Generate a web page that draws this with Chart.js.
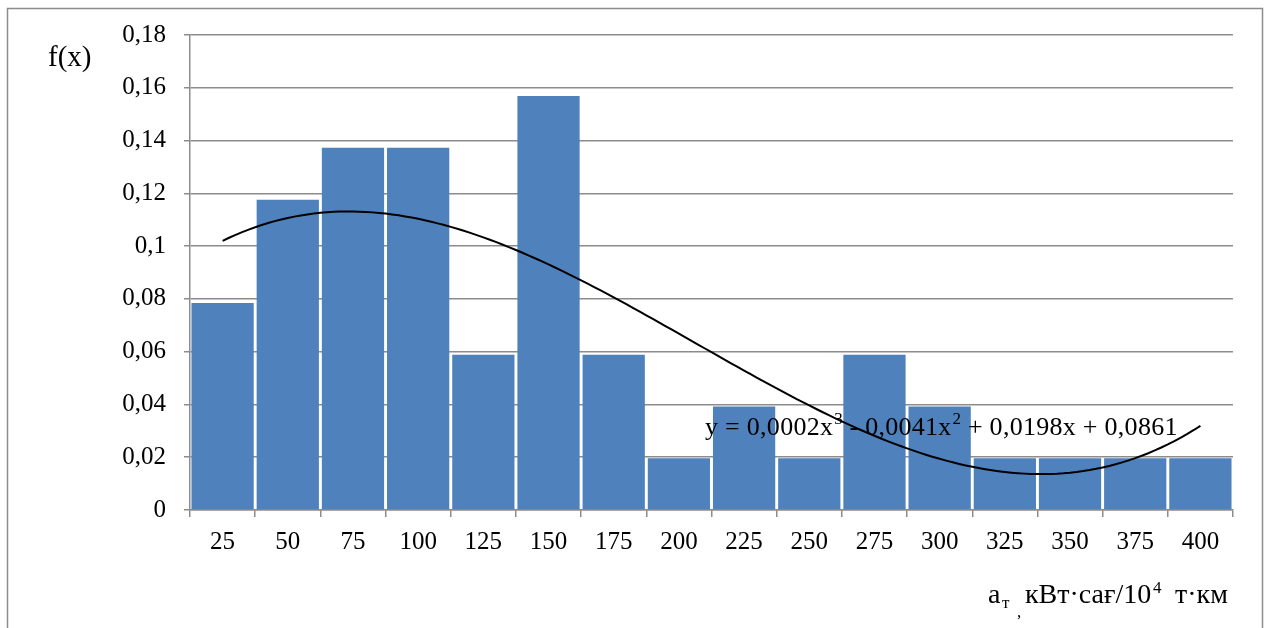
<!DOCTYPE html>
<html>
<head>
<meta charset="utf-8">
<script src="https://cdn.jsdelivr.net/npm/chart.js"></script>
<style>
  body { margin: 0; background: #fff; }
</style>
</head>
<body>
<canvas id="chart" width="1268" height="628"></canvas>
<script>
// interval upper bounds along the x-axis
var classes = ['25', '50', '75', '100', '125', '150', '175', '200', '225', '250', '275', '300', '325', '350', '375', '400'];
// relative frequency per interval
var freq = [0.0784, 0.1176, 0.1373, 0.1373, 0.0588, 0.1569, 0.0588, 0.0196, 0.0392, 0.0196, 0.0588, 0.0392, 0.0196, 0.0196, 0.0196, 0.0196];
// trendline equation, drawn as [text, superscript] pairs
var trendLabel = [['y = 0,0002x', '3'], [' - 0,0041x', '2'], [' + 0,0198x + 0,0861', '']];

var serif = '"Liberation Serif", "Times New Roman", serif';
var gray = '#8c8c8c';

// cubic least squares over interval numbers 1..n (same as the spreadsheet trendline)
function cubicFit(ys) {
  var n = 4, A = [], b = [];
  for (var i = 0; i < n; i++) { A.push([0, 0, 0, 0]); b.push(0); }
  ys.forEach(function (y, k) {
    var x = k + 1;
    for (var i = 0; i < n; i++) {
      for (var j = 0; j < n; j++) A[i][j] += Math.pow(x, i + j);
      b[i] += y * Math.pow(x, i);
    }
  });
  for (var c = 0; c < n; c++) {
    var p = c;
    for (var r = c + 1; r < n; r++) if (Math.abs(A[r][c]) > Math.abs(A[p][c])) p = r;
    var t = A[c]; A[c] = A[p]; A[p] = t;
    t = b[c]; b[c] = b[p]; b[p] = t;
    for (var r2 = c + 1; r2 < n; r2++) {
      var f = A[r2][c] / A[c][c];
      for (var j2 = c; j2 < n; j2++) A[r2][j2] -= f * A[c][j2];
      b[r2] -= f * b[c];
    }
  }
  var coef = [0, 0, 0, 0];
  for (var r3 = n - 1; r3 >= 0; r3--) {
    var s = b[r3];
    for (var j3 = r3 + 1; j3 < n; j3++) s -= A[r3][j3] * coef[j3];
    coef[r3] = s / A[r3][r3];
  }
  return coef;
}

var coef = cubicFit(freq);
var trend = [];
for (var x = 1; x <= freq.length + 0.001; x += 0.1) {
  trend.push({ x: x, y: coef[0] + coef[1] * x + coef[2] * x * x + coef[3] * x * x * x });
}

// draw text spread out to a given width via letter spacing
function fitText(c, text, x, y, width) {
  var w = c.measureText(text).width;
  var gap = Math.max(0, (width - w) / text.length);
  c.letterSpacing = gap + 'px';
  c.fillText(text, x, y);
  c.letterSpacing = '0px';
}

var labelsPlugin = {
  id: 'labels',
  beforeDraw: function (chart) {
    var c = chart.ctx;
    c.save();
    c.strokeStyle = gray;
    c.lineWidth = 1.5;
    c.strokeRect(7.5, 8.5, 1255, 700);
    c.restore();
  },
  afterDraw: function (chart) {
    var c = chart.ctx;
    c.save();
    c.fillStyle = '#000';
    c.textBaseline = 'alphabetic';
    c.font = '29px ' + serif;
    c.fillText('f(x)', 48, 66);

    // trendline equation
    var ex = 705, eb = 435, stretch = 1.025;
    trendLabel.forEach(function (part) {
      c.font = '26px ' + serif;
      var w = c.measureText(part[0]).width * stretch;
      fitText(c, part[0], ex, eb, w);
      ex += w;
      if (part[1]) {
        c.font = '17px ' + serif;
        c.fillText(part[1], ex + 1, eb - 11);
        ex += c.measureText(part[1]).width + 1;
      }
    });

    // axis title with sub/superscripts
    var base = 603;
    c.font = '28px ' + serif;
    c.fillText('a', 988, base);
    c.font = '17px ' + serif;
    c.fillText('т', 1002, base + 5);
    c.fillText(',', 1017, base + 14);
    c.font = '28px ' + serif;
    fitText(c, 'кВт·сағ/10', 1025, base, 125);
    c.font = '17px ' + serif;
    c.fillText('4', 1153, base - 10);
    c.font = '28px ' + serif;
    c.fillText('т·км', 1175, base);
    c.restore();
  }
};

new Chart(document.getElementById('chart'), {
  data: {
    labels: classes,
    datasets: [
      {
        type: 'line',
        data: trend,
        xAxisID: 'xFit',
        borderColor: '#000',
        borderWidth: 2,
        pointRadius: 0,
        order: 0
      },
      {
        type: 'bar',
        data: freq,
        xAxisID: 'x',
        backgroundColor: '#4f81bd',
        grouped: false,
        barPercentage: 0.955,
        categoryPercentage: 1,
        order: 1
      }
    ]
  },
  options: {
    responsive: false,
    animation: false,
    layout: { padding: { left: 0, top: 35, right: 35, bottom: 0 } },
    plugins: { legend: { display: false }, tooltip: { enabled: false } },
    scales: {
      x: {
        type: 'category',
        afterFit: function (s) { s.height = 118; },
        grid: { drawOnChartArea: false, drawTicks: true, tickLength: 7, color: gray, lineWidth: 1.5 },
        border: { color: gray, width: 1.5 },
        ticks: { color: '#000', font: { family: serif, size: 25 }, padding: 10, maxRotation: 0 }
      },
      xFit: {
        type: 'linear',
        display: false,
        min: 0.5,
        max: classes.length + 0.5
      },
      y: {
        min: 0,
        max: 0.18,
        afterFit: function (s) { s.width = 190; },
        grid: { color: gray, lineWidth: 1.5, tickLength: 6 },
        border: { color: gray, width: 1.5 },
        ticks: {
          stepSize: 0.02,
          color: '#000',
          padding: 18,
          font: { family: serif, size: 25 },
          callback: function (v) { return String(Math.round(v * 100) / 100).replace('.', ','); }
        }
      }
    }
  },
  plugins: [labelsPlugin]
});
</script>
</body>
</html>
